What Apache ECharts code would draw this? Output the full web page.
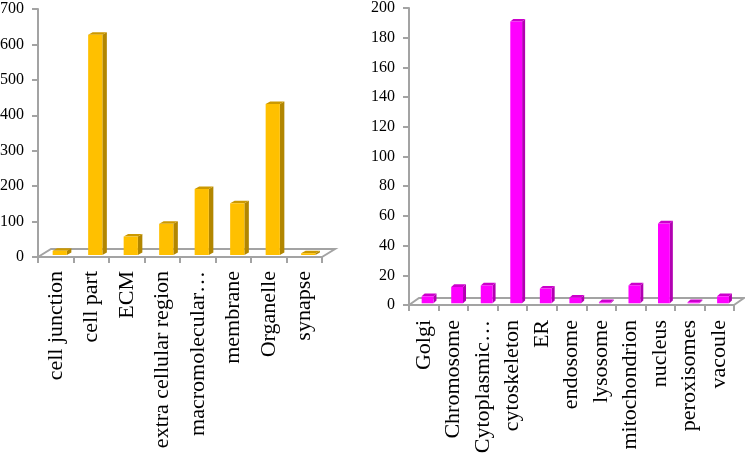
<!DOCTYPE html>
<html>
<head>
<meta charset="utf-8">
<style>
  html, body { margin: 0; padding: 0; background: #fff; }
  #chart { width: 745px; height: 456px; }
</style>
<script src="https://cdn.jsdelivr.net/npm/echarts@6/dist/echarts.min.js"></script>
</head>
<body>
<div id="chart"></div>
<script>
const leftCategories = ['cell junction', 'cell part', 'ECM', 'extra cellular region', 'macromolecular…', 'membrane', 'Organelle', 'synapse'];
const leftValues = [12, 622, 52, 88, 186, 146, 426, 5];
const rightCategories = ['Golgi', 'Chromosome', 'Cytoplasmic…', 'cytoskeleton', 'ER', 'endosome', 'lysosome', 'mitochondrion', 'nucleus', 'peroxisomes', 'vacoule'];
const rightValues = [4.7, 11, 12, 189.7, 9.9, 3.8, 0.7, 12, 53.7, 0.7, 4.7];

const FONT = '"Liberation Serif", "Times New Roman", serif';
const AXIS_GREY = '#a3a3a3';

// fake 3d column: front face plus top and side, shifted off the floor front edge
function barItem(colors, shiftX, shiftY, depthX, depthY) {
  return function (params, api) {
    const base = api.coord([api.value(0), 0]);
    const top = api.coord([api.value(0), api.value(1)]);
    const w = api.size([1, 0])[0] * 0.4;
    const x0 = base[0] + shiftX - w / 2;
    const x1 = x0 + w;
    const y0 = base[1] - shiftY;
    const y1 = top[1] - shiftY;
    return {
      type: 'group',
      children: [
        { type: 'polygon', shape: { points: [[x1, y0], [x1 + depthX, y0 - depthY], [x1 + depthX, y1 - depthY], [x1, y1]] }, style: { fill: colors[1] } },
        { type: 'polygon', shape: { points: [[x0, y1], [x0 + depthX, y1 - depthY], [x1 + depthX, y1 - depthY], [x1, y1]] }, style: { fill: colors[2] } },
        { type: 'rect', shape: { x: x0, y: y1, width: w, height: y0 - y1 }, style: { fill: colors[0] } }
      ]
    };
  };
}

function floorItem(depthX, depthY) {
  return function (params) {
    const g = params.coordSys;
    const bottom = g.y + g.height;
    const right = g.x + g.width;
    return {
      type: 'polyline',
      shape: { points: [[g.x, bottom], [g.x + depthX, bottom - depthY], [right + depthX, bottom - depthY], [right, bottom]] },
      style: { fill: null, stroke: AXIS_GREY, lineWidth: 2 }
    };
  };
}

function xAxisFor(idx, cats, margin) {
  return {
    type: 'category',
    gridIndex: idx,
    data: cats,
    axisLine: { lineStyle: { color: AXIS_GREY, width: 2 } },
    axisTick: { show: true, length: 6, lineStyle: { color: AXIS_GREY, width: 2 } },
    axisLabel: { interval: 0, rotate: 90, margin: margin, color: '#000', fontFamily: FONT, fontSize: 22 }
  };
}

function yAxisFor(idx, max, step) {
  return {
    type: 'value',
    gridIndex: idx,
    min: 0,
    max: max,
    interval: step,
    splitLine: { show: false },
    axisLine: { show: true, lineStyle: { color: AXIS_GREY, width: 2 } },
    axisTick: { show: true, length: 6, lineStyle: { color: AXIS_GREY, width: 2 } },
    axisLabel: { margin: 14, color: '#000', fontFamily: FONT, fontSize: 16 }
  };
}

const chart = echarts.init(document.getElementById('chart'));
chart.setOption({
  animation: false,
  backgroundColor: '#fff',
  grid: [
    { left: 38, top: 9, width: 284, height: 248, outerBoundsMode: 'none' },
    { left: 409, top: 8, width: 325, height: 297, outerBoundsMode: 'none' }
  ],
  xAxis: [xAxisFor(0, leftCategories, 14), xAxisFor(1, rightCategories, 15)],
  yAxis: [yAxisFor(0, 700, 100), yAxisFor(1, 200, 20)],
  series: [
    { type: 'custom', xAxisIndex: 0, yAxisIndex: 0, silent: true, data: [0], renderItem: floorItem(13, 8) },
    {
      type: 'custom', xAxisIndex: 0, yAxisIndex: 0, encode: { x: 0, y: 1 },
      data: leftValues.map((v, i) => [i, v]),
      renderItem: barItem(['#FFC000', '#B28600', '#CC9900'], 4, 2, 4.5, 2.5)
    },
    { type: 'custom', xAxisIndex: 1, yAxisIndex: 1, silent: true, data: [0], renderItem: floorItem(10, 7) },
    {
      type: 'custom', xAxisIndex: 1, yAxisIndex: 1, encode: { x: 0, y: 1 },
      data: rightValues.map((v, i) => [i, v]),
      renderItem: barItem(['#FF00FF', '#B200B2', '#CC00CC'], 3.8, 1.7, 3, 2.7)
    }
  ]
});
</script>
</body>
</html>
